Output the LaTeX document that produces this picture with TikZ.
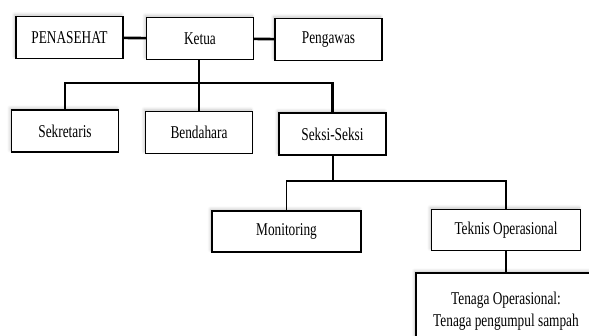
\documentclass[tikz,border=0pt]{standalone}
\usepackage{fontspec}
\setmainfont{Liberation Serif}[FakeStretch=0.74]
\usetikzlibrary{shadows.blur}

\tikzset{
    unitbox/.style={draw, line width=1.2pt, fill=white, minimum width=107pt, minimum height=42pt,
        inner sep=2pt, align=center,
        blur shadow={shadow xshift=-1.5pt, shadow yshift=2pt, shadow blur radius=3pt,
            shadow blur steps=8, shadow opacity=22}},
    widebox/.style={unitbox, minimum width=149pt, minimum height=41pt},
    mainline/.style={line width=2.6pt},
    subline/.style={line width=1.5pt}
}

\begin{document}
\begin{tikzpicture}[x=1pt, y=-1pt, font=\fontsize{18}{22}\selectfont]
            \useasboundingbox (0,0) rectangle (589,335);
            \clip (0,0) rectangle (589,335);

            % top row
            \node[unitbox] (penasehat) at (69.5, 37.5) {PENASEHAT};
            \node[unitbox] (ketua) at (200, 38.5) {Ketua};
            \node[unitbox] (pengawas) at (328.5, 39.5) {Pengawas};

            % second row
            \node[unitbox] (sekretaris) at (65, 131) {Sekretaris};
            \node[unitbox] (bendahara) at (199, 132.5) {Bendahara};
            \node[unitbox] (seksi) at (332.5, 134) {Seksi-Seksi};

            % third row
            \node[widebox] (monitoring) at (286.5, 231.5) {Monitoring};
            \node[widebox] (teknis) at (506, 230) {Teknis Operasional};
            \node[unitbox, minimum width=180pt, minimum height=76pt] (tenaga) at (506, 311)
                {Tenaga Operasional:\\Tenaga pengumpul sampah};

            \coordinate (barA) at (199, 83);
            \coordinate (barB) at (333, 181);

            \draw[mainline] (penasehat) -- (ketua);
            \draw[mainline] (ketua) -- (pengawas);
            \draw[mainline] (ketua.south -| barA) -- (barA);
            \draw[mainline] (sekretaris.north) |- (barA) -| (seksi.north);
            \draw[mainline] (barA) -- (bendahara.north);

            \draw[subline] (seksi.south -| barB) -- (barB);
            \draw[subline] (monitoring.north) |- (barB) -| (teknis.north);
            \draw[subline] (teknis.south) -- (tenaga.north);
        \end{tikzpicture}
\end{document}
